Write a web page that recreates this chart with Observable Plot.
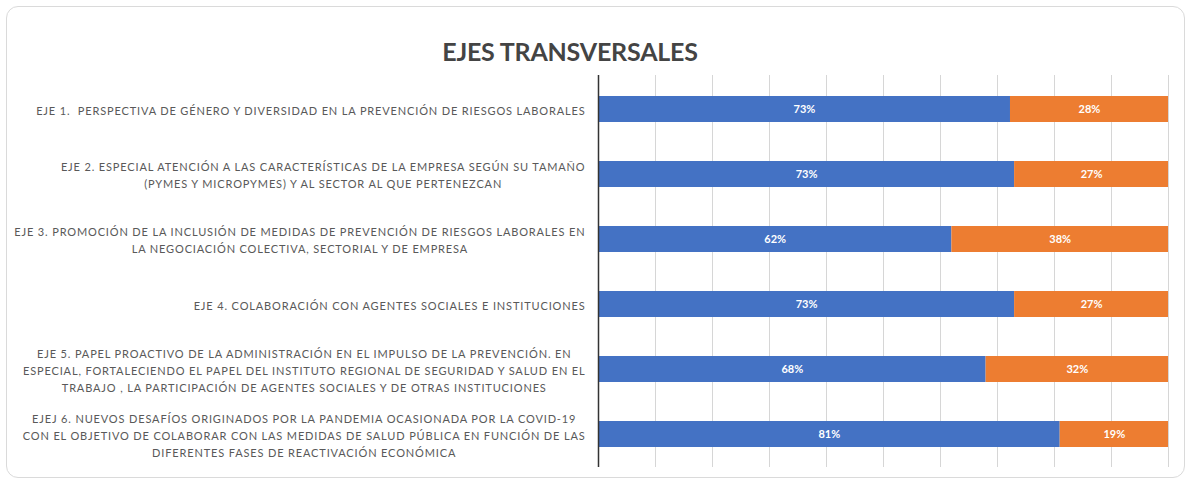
<!DOCTYPE html>
<html>
<head>
<meta charset="utf-8">
<script src="https://cdn.jsdelivr.net/npm/d3@7"></script>
<script src="https://cdn.jsdelivr.net/npm/@observablehq/plot@0.6"></script>
<style>
  html, body { margin: 0; padding: 0; background: #fff; }
  body { width: 1188px; height: 483px; position: relative; overflow: hidden; font-family: Lato, "Open Sans", sans-serif; }
  #card { position: absolute; left: 6px; top: 6px; width: 1179px; height: 472px; border: 1.5px solid #dadada; border-radius: 12px; box-sizing: border-box; }
  #title { position: absolute; left: 0; top: 39px; width: 1140px; text-align: center; font-family: Lato, sans-serif; font-weight: 700; font-size: 25px; line-height: 25px; color: #444; letter-spacing: -0.2px; }
  #chart { position: absolute; left: 0; top: 70px; }
  #chart g[aria-label="y-axis tick label"] { letter-spacing: 0.85px; }
</style>
</head>
<body>
<div id="card"></div>
<div id="title">EJES TRANSVERSALES</div>
<div id="chart"></div>
<script>
// ---- data ----
const categories = ["EJE 1", "EJE 2", "EJE 3", "EJE 4", "EJE 5", "EJE 6"];
const categoryLabels = [
  "EJE 1.  PERSPECTIVA DE GÉNERO Y DIVERSIDAD EN LA PREVENCIÓN DE RIESGOS LABORALES",
  "EJE 2. ESPECIAL ATENCIÓN A LAS CARACTERÍSTICAS DE LA EMPRESA SEGÚN SU TAMAÑO\n(PYMES Y MICROPYMES) Y AL SECTOR AL QUE PERTENEZCAN",
  "EJE 3. PROMOCIÓN DE LA INCLUSIÓN DE MEDIDAS DE PREVENCIÓN DE RIESGOS LABORALES EN\nLA NEGOCIACIÓN COLECTIVA, SECTORIAL Y DE EMPRESA",
  "EJE 4. COLABORACIÓN CON AGENTES SOCIALES E INSTITUCIONES",
  "EJE 5. PAPEL PROACTIVO DE LA ADMINISTRACIÓN EN EL IMPULSO DE LA PREVENCIÓN. EN\nESPECIAL, FORTALECIENDO EL PAPEL DEL INSTITUTO REGIONAL DE SEGURIDAD Y SALUD EN EL\nTRABAJO , LA PARTICIPACIÓN DE AGENTES SOCIALES Y DE OTRAS INSTITUCIONES",
  "EJEJ 6. NUEVOS DESAFÍOS ORIGINADOS POR LA PANDEMIA OCASIONADA POR LA COVID-19\nCON EL OBJETIVO DE COLABORAR CON LAS MEDIDAS DE SALUD PÚBLICA EN FUNCIÓN DE LAS\nDIFERENTES FASES DE REACTIVACIÓN ECONÓMICA"
];
const seriesNames = ["Serie 1", "Serie 2"];
const serie1 = [73, 73, 62, 73, 68, 81];
const serie2 = [28, 27, 38, 27, 32, 19];
const seriesColors = ["#4472C4", "#ED7D31"];

// ---- table built from arrays ----
const rows = [];
categories.forEach((c, i) => {
  rows.push({cat: c, serie: seriesNames[0], value: serie1[i]});
  rows.push({cat: c, serie: seriesNames[1], value: serie2[i]});
});
const labelOf = new Map(categories.map((c, i) => [c, categoryLabels[i]]));

const chart = Plot.plot({
  width: 1188,
  height: 413,
  marginLeft: 598,
  marginRight: 20,
  marginTop: 5,
  marginBottom: 16,
  style: {fontFamily: "Lato, sans-serif", color: "#595959", background: "transparent"},
  x: {domain: [0, 1], axis: null},
  y: {domain: categories, paddingInner: 0.6, paddingOuter: 0.3, axis: null},
  color: {domain: seriesNames, range: seriesColors},
  marks: [
    Plot.gridX({ticks: 10, stroke: "#d6d6d6", strokeOpacity: 1, strokeWidth: 1}),
    Plot.barX(rows, {x: "value", y: "cat", fill: "serie", offset: "normalize", order: null}),
    Plot.text(rows, Plot.stackX({x: "value", y: "cat", offset: "normalize", order: null,
      text: d => d.value + "%", fill: "white", fontWeight: "bold", fontSize: 11})),
    Plot.ruleX([0], {stroke: "#333", strokeWidth: 1.5}),
    Plot.axisY({tickSize: 0, tickPadding: 13, fontSize: 11, lineHeight: 1.55, label: null,
      tickFormat: c => labelOf.get(c), lineWidth: Infinity, textOverflow: null})
  ]
});
document.getElementById("chart").appendChild(chart);

// center each multi-line label within its own block (Excel-style), block right-aligned
chart.querySelectorAll('g[aria-label="y-axis tick label"] text').forEach(t => {
  const spans = t.querySelectorAll("tspan");
  if (!spans.length) return;
  let maxW = 0;
  spans.forEach(s => { maxW = Math.max(maxW, s.getComputedTextLength()); });
  t.setAttribute("text-anchor", "middle");
  t.style.textAnchor = "middle";
  spans.forEach(s => s.setAttribute("x", -maxW / 2));
});
</script>
</body>
</html>
